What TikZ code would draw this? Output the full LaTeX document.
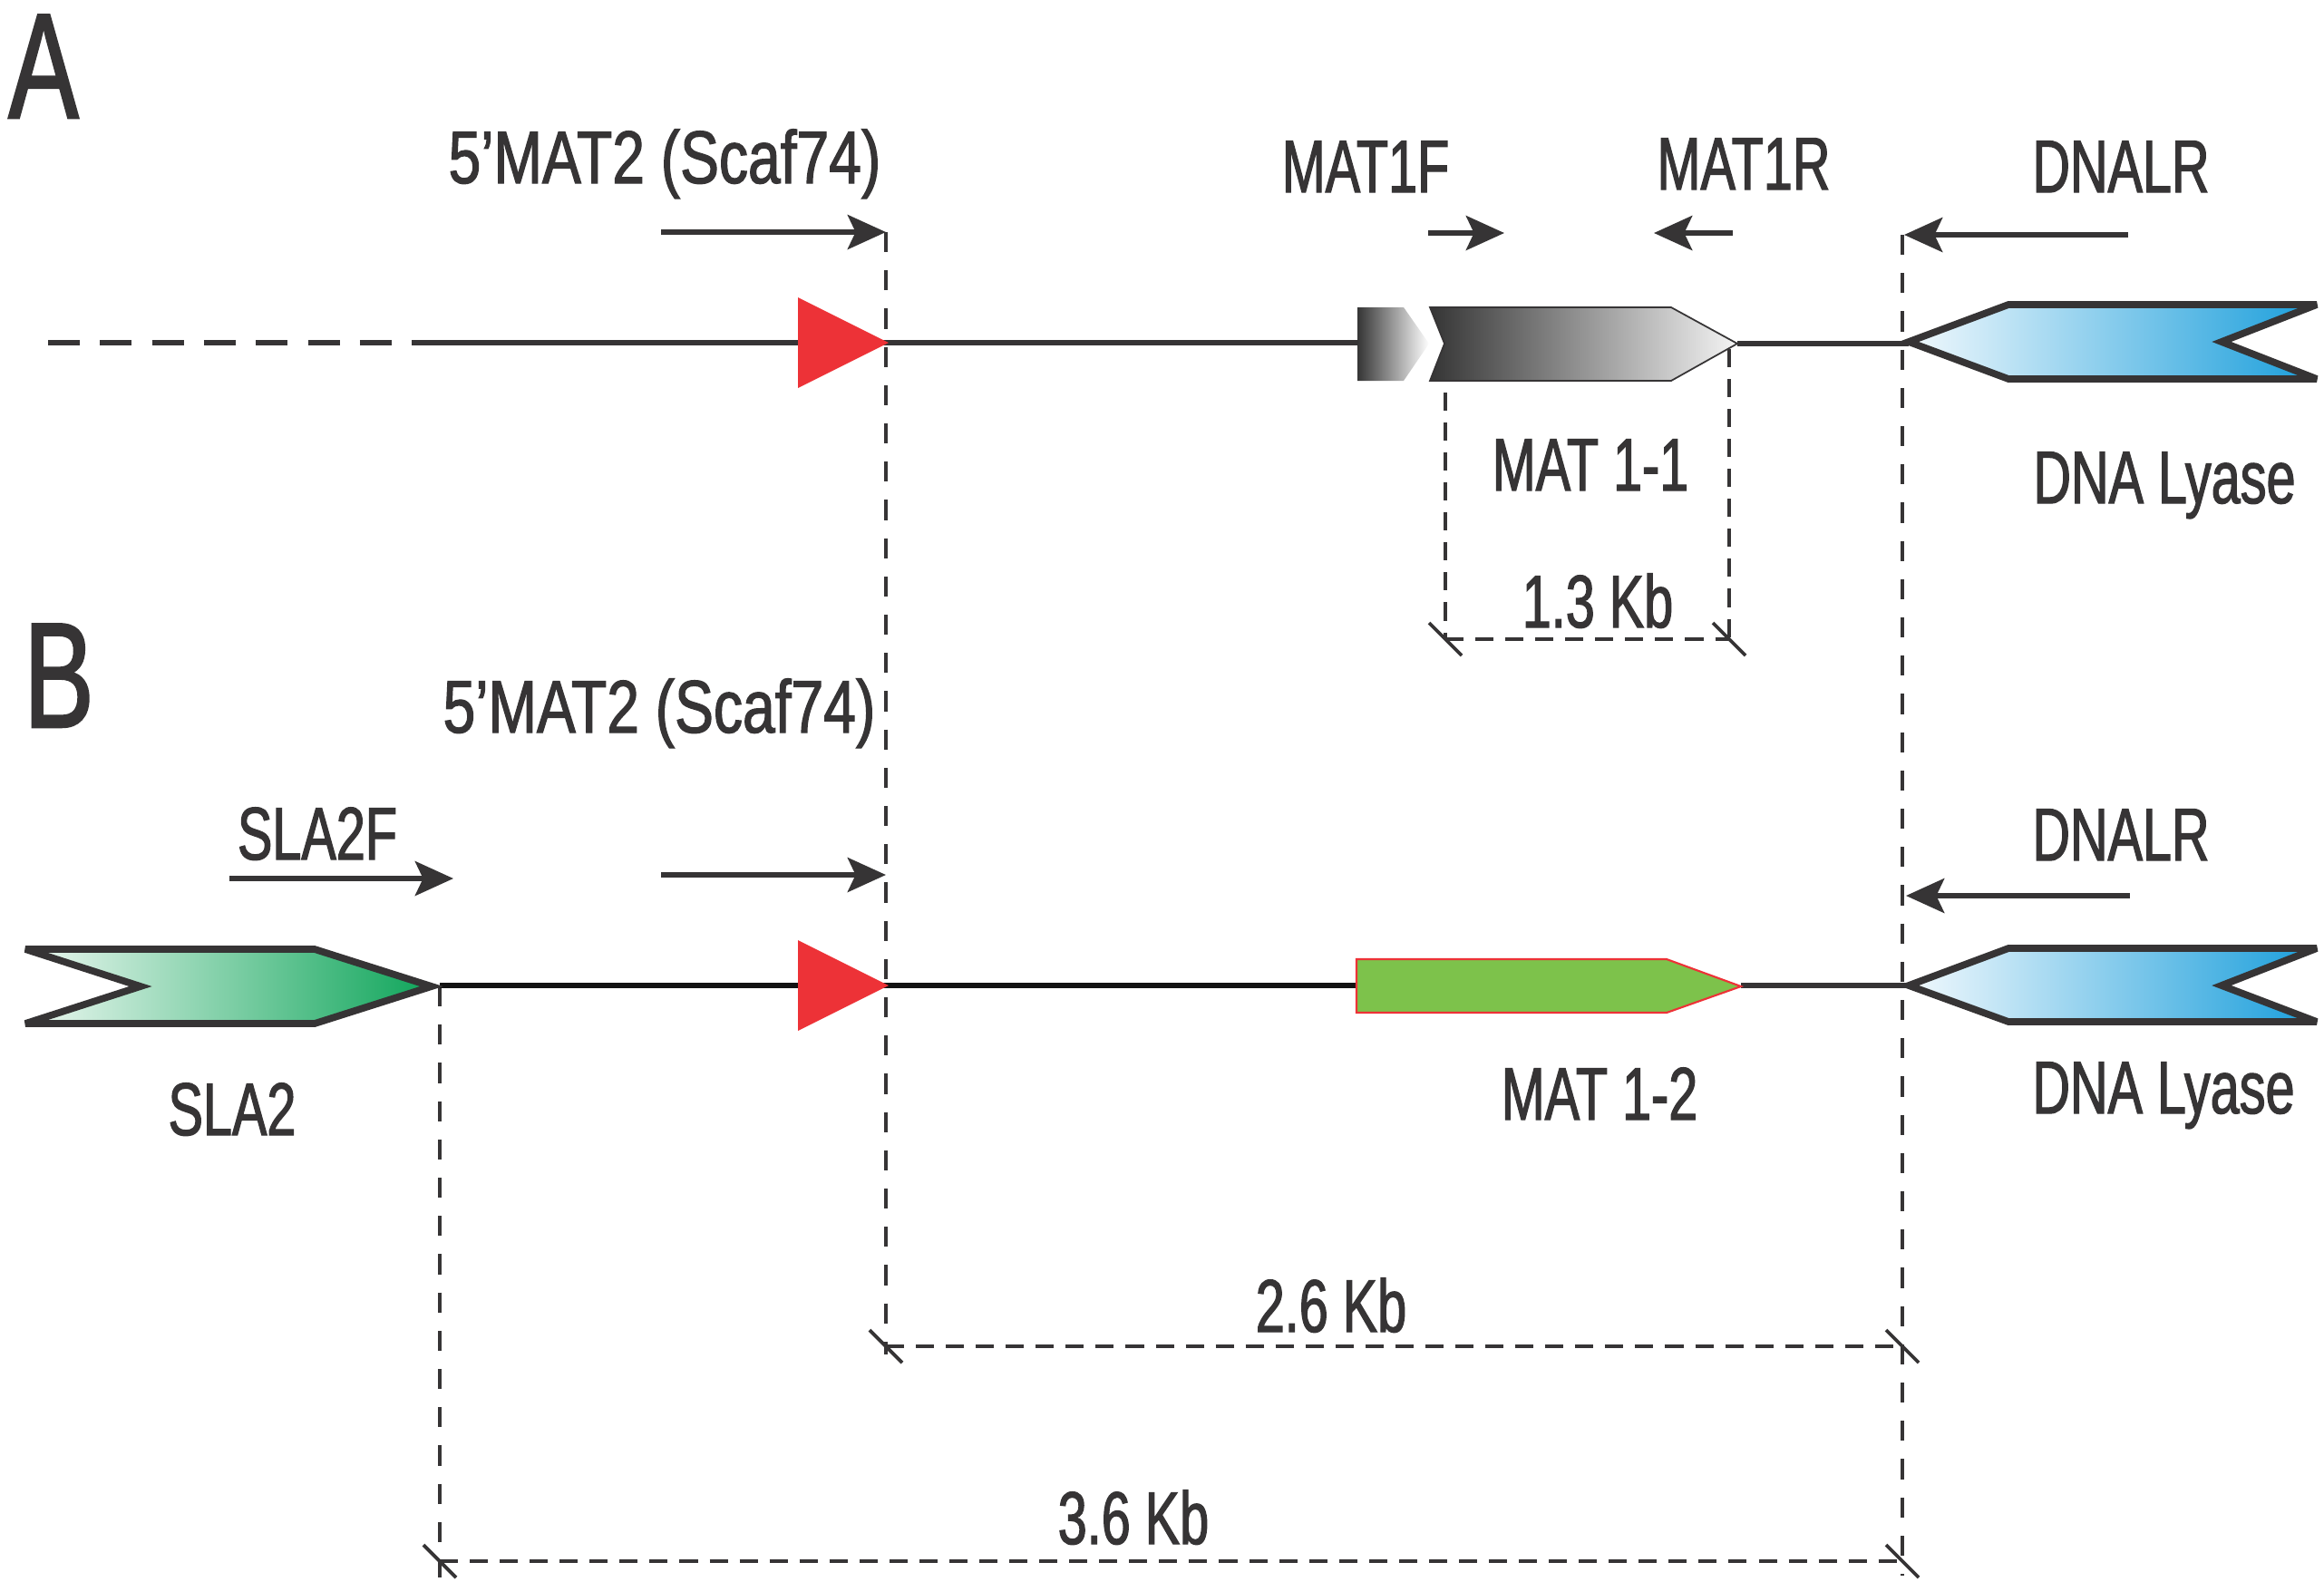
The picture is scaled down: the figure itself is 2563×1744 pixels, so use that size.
\documentclass[tikz,border=0pt]{standalone}
\usepackage{fontspec}
\setmainfont{Liberation Sans}
\newfontfamily\cond{Liberation Sans}[FakeStretch=0.7,FakeBold=1.5]
\newfontfamily\condw{Liberation Sans}[FakeStretch=0.78,FakeBold=1.5]
\usetikzlibrary{arrows.meta}
\definecolor{ink}{HTML}{363435}
\definecolor{redtri}{HTML}{ED3237}
\definecolor{matgreen}{HTML}{7DC24B}
\definecolor{lyaseblue}{HTML}{1A9EDB}
\definecolor{lyaselight}{HTML}{F2F9FD}
\definecolor{slagreen}{HTML}{0EA55A}
\definecolor{slalight}{HTML}{EEF8F2}
\definecolor{matdark}{HTML}{353535}
\definecolor{matlight}{HTML}{F4F4F4}
\begin{document}
\begin{tikzpicture}[x=0.01cm,y=-0.01cm,
  lbl/.style={inner sep=0, anchor=base, text=ink, font=\cond\fontsize{23.4}{28}\selectfont},
  lblw/.style={inner sep=0, anchor=base, text=ink, font=\condw\fontsize{23.4}{28}\selectfont},
  panel/.style={inner sep=0, anchor=base, text=ink, text height=34.5pt, text depth=0pt, font=\cond\fontsize{47}{56}\selectfont},
  primer/.style={draw=ink, line width=1.6pt, -{Stealth[length=12pt,width=10.8pt,inset=2.5pt]}},
  dimline/.style={draw=ink, line width=1.1pt, dash pattern=on 5.7pt off 3.7pt},
  longdash/.style={draw=ink, line width=1.1pt, dash pattern=on 6.3pt off 5.7pt},
  tickmark/.style={draw=ink, line width=1.1pt},
  backbone/.style={draw=ink, line width=1.9pt},
  genebox/.style={draw=ink, line width=2.2pt, line join=miter, miter limit=4},
]
\useasboundingbox (0,0) rectangle (2563,1744);

% ---------- coordinates ----------
\coordinate (mA) at (977,256);
\coordinate (mAt) at (729,256);
\coordinate (mB) at (977,965);
\coordinate (mBt) at (729,965);
\coordinate (fF) at (1659,257);
\coordinate (fFt) at (1575,257);
\coordinate (fR) at (1824,257);
\coordinate (fRt) at (1911,257);
\coordinate (dA) at (2100,259);
\coordinate (dAt) at (2347,259);
\coordinate (dB) at (2102,988);
\coordinate (dBt) at (2349,988);
\coordinate (sF) at (500,969);
\coordinate (sFt) at (253,969);

\coordinate (vL0) at (977,256);   \coordinate (vL1) at (977,1494);
\coordinate (vR0) at (2098,259);  \coordinate (vR1) at (2098,1738);
\coordinate (vS0) at (485,1088);  \coordinate (vS1) at (485,1740);
\coordinate (v10) at (1594,400);  \coordinate (v11) at (1594,705);
\coordinate (v20) at (1907,385);  \coordinate (v21) at (1907,705);

\coordinate (h1a) at (1594,705);  \coordinate (h1b) at (1907,705);
\coordinate (h2a) at (977,1485);  \coordinate (h2b) at (2098,1485);
\coordinate (h3a) at (485,1722);  \coordinate (h3b) at (2098,1722);

% ---------- dimension lines ----------
\draw[longdash] (vL0) -- (vL1);
\draw[longdash] (vR0) -- (vR1);
\draw[longdash] (vS0) -- (vS1);
\draw[dimline] (v10) -- (v11);
\draw[dimline] (v20) -- (v21);
\draw[dimline] (h1a) -- (h1b);
\draw[dimline] (h2a) -- (h2b);
\draw[dimline] (h3a) -- (h3b);
\foreach \c in {h1a,h1b,h2a,h2b,h3a,h3b}{
  \draw[tickmark] ([shift={(-18,-18)}]\c) -- ([shift={(18,18)}]\c);
}

% ---------- panel A ----------
\node[panel] (labA) at (48,130) {A};
\coordinate (bA0) at (53,378);
\coordinate (bA1) at (470,378);
\coordinate (bA2) at (1497,378);
\coordinate (bA3) at (1916,379);
\coordinate (bA4) at (2105,379);
\draw[backbone, dash pattern=on 10pt off 6.3pt] (bA0) -- (bA1);
\draw[backbone] (bA1) -- (bA2);
\draw[backbone, line width=1.6pt] (bA3) -- (bA4);

\fill[redtri] (880,328) -- (980,378) -- (880,428) -- cycle;

\path[left color=matdark, right color=white]
  (1497,339) -- (1548,339) -- (1576,379) -- (1548,420) -- (1497,420) -- cycle;
\path[left color=matdark, right color=matlight, draw=ink, line width=0.5pt]
  (1577,339) -- (1843,339) -- (1916,379) -- (1843,420) -- (1577,420) -- (1593,379) -- cycle;

\path[genebox, left color=lyaselight, right color=lyaseblue]
  (2105,377) -- (2215,336) -- (2555,336) -- (2450,377) -- (2555,418) -- (2215,418) -- cycle;

\node[lblw] (t5A) at (733,202) {5’MAT2 (Scaf74)};
\node[lbl] (tF) at (1506,212) {MAT1F};
\node[lbl] (tR) at (1923,209) {MAT1R};
\node[lbl] (tDA) at (2339,212) {DNALR};
\node[lbl] (tM11) at (1754,541) {MAT 1-1};
\node[lbl] (tLA) at (2387,555) {DNA Lyase};
\node[lbl] (t13) at (1762,692) {1.3 Kb};

\draw[primer] (mAt) -- (mA);
\draw[primer] (fFt) -- (fF);
\draw[primer] (fRt) -- (fR);
\draw[primer] (dAt) -- (dA);

% ---------- panel B ----------
\node[panel] (labB) at (65,802) {B};
\coordinate (bB0) at (485,1087);
\coordinate (bB1) at (1496,1087);
\coordinate (bB2) at (1920,1087);
\coordinate (bB3) at (2105,1087);
\draw[draw=black!93, line width=1.8pt] (bB0) -- (bB1);
\draw[backbone, line width=1.5pt] (bB2) -- (bB3);

\fill[redtri] (880,1037) -- (980,1087) -- (880,1137) -- cycle;

\path[genebox, left color=slalight, right color=slagreen]
  (28,1047) -- (347,1047) -- (476,1088) -- (347,1129) -- (28,1129) -- (155,1088) -- cycle;

\path[fill=matgreen, draw=redtri, line width=0.6pt]
  (1496,1058) -- (1838,1058) -- (1920,1088) -- (1838,1117) -- (1496,1117) -- cycle;

\path[genebox, left color=lyaselight, right color=lyaseblue]
  (2105,1087) -- (2215,1046) -- (2555,1046) -- (2450,1087) -- (2555,1127) -- (2215,1127) -- cycle;

\node[lblw] (t5B) at (727,808) {5’MAT2 (Scaf74)};
\node[lbl] (tSF) at (350,948) {SLA2F};
\node[lbl] (tDB) at (2339,949) {DNALR};
\node[lbl] (tS) at (256,1252) {SLA2};
\node[lbl] (tM12) at (1764,1235) {MAT 1-2};
\node[lbl] (tLB) at (2386,1228) {DNA Lyase};
\node[lbl] (t26) at (1468,1469) {2.6 Kb};
\node[lbl] (t36) at (1250,1703) {3.6 Kb};

\draw[primer] (sFt) -- (sF);
\draw[primer] (mBt) -- (mB);
\draw[primer] (dBt) -- (dB);
\end{tikzpicture}
\end{document}
